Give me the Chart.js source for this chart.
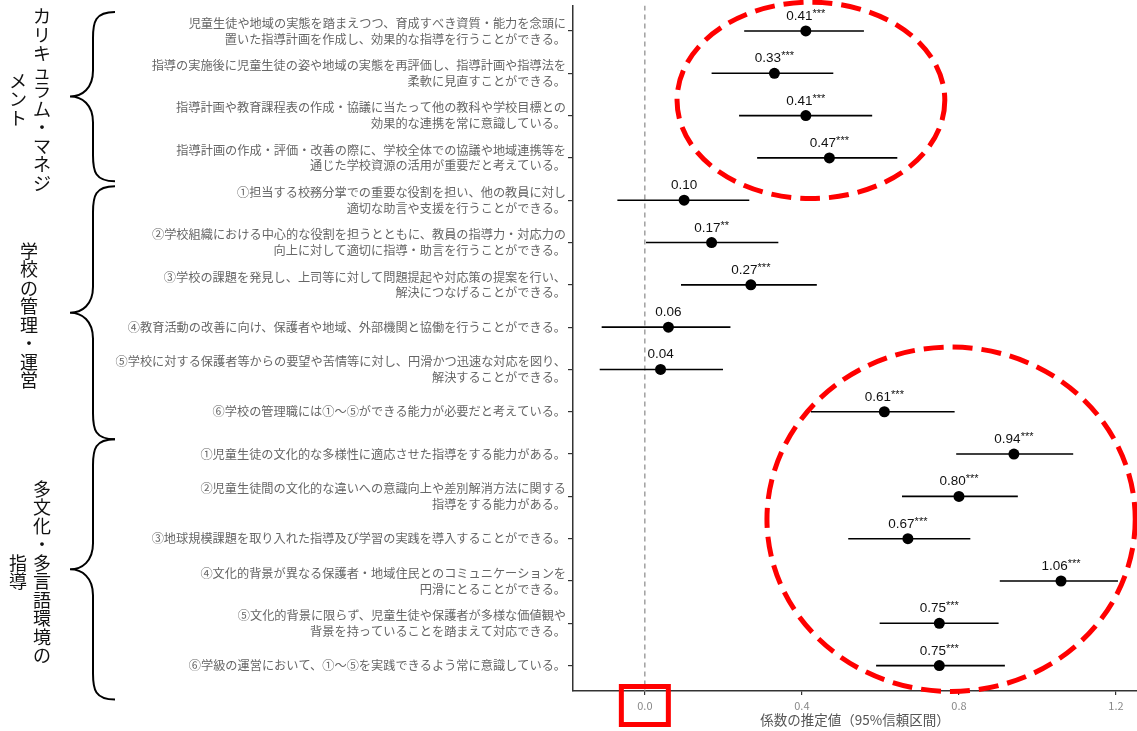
<!DOCTYPE html>
<html lang="ja">
<head>
<meta charset="utf-8">
<script src="https://cdn.jsdelivr.net/npm/chart.js@4.4.1/dist/chart.umd.min.js"></script>
<style>
    html, body { margin: 0; padding: 0; background: #fff; overflow: hidden; }
    canvas { display: block; }
</style>
</head>
<body>
<canvas id="forestPlot" width="1137" height="731"></canvas>
<script>
// Item labels (top to bottom)
const rowLabels = [
    ['児童生徒や地域の実態を踏まえつつ、育成すべき資質・能力を念頭に', '置いた指導計画を作成し、効果的な指導を行うことができる。'],
    ['指導の実施後に児童生徒の姿や地域の実態を再評価し、指導計画や指導法を', '柔軟に見直すことができる。'],
    ['指導計画や教育課程表の作成・協議に当たって他の教科や学校目標との', '効果的な連携を常に意識している。'],
    ['指導計画の作成・評価・改善の際に、学校全体での協議や地域連携等を', '通じた学校資源の活用が重要だと考えている。'],
    ['①担当する校務分掌での重要な役割を担い、他の教員に対し', '適切な助言や支援を行うことができる。'],
    ['②学校組織における中心的な役割を担うとともに、教員の指導力・対応力の', '向上に対して適切に指導・助言を行うことができる。'],
    ['③学校の課題を発見し、上司等に対して問題提起や対応策の提案を行い、', '解決につなげることができる。'],
    '④教育活動の改善に向け、保護者や地域、外部機関と協働を行うことができる。',
    ['⑤学校に対する保護者等からの要望や苦情等に対し、円滑かつ迅速な対応を図り、', '解決することができる。'],
    '⑥学校の管理職には①～⑤ができる能力が必要だと考えている。',
    '①児童生徒の文化的な多様性に適応させた指導をする能力がある。',
    ['②児童生徒間の文化的な違いへの意識向上や差別解消方法に関する', '指導をする能力がある。'],
    '③地球規模課題を取り入れた指導及び学習の実践を導入することができる。',
    ['④文化的背景が異なる保護者・地域住民とのコミュニケーションを', '円滑にとることができる。'],
    ['⑤文化的背景に限らず、児童生徒や保護者が多様な価値観や', '背景を持っていることを踏まえて対応できる。'],
    '⑥学級の運営において、①～⑤を実践できるよう常に意識している。'
];

// Coefficient estimates and 95% CI
const estimates = [0.41, 0.33, 0.41, 0.47, 0.10, 0.17, 0.27, 0.06, 0.04, 0.61, 0.94, 0.80, 0.67, 1.06, 0.75, 0.75];
const ciLow = [0.253, 0.170, 0.240, 0.286, -0.070, 0.003, 0.092, -0.110, -0.115, 0.423, 0.793, 0.655, 0.518, 0.904, 0.598, 0.589];
const ciHigh = [0.558, 0.480, 0.579, 0.643, 0.266, 0.340, 0.438, 0.218, 0.199, 0.789, 1.091, 0.950, 0.829, 1.205, 0.901, 0.917];
const stars = ['***', '***', '***', '***', '', '**', '***', '', '', '***', '***', '***', '***', '***', '***', '***'];

// x-axis ticks
const xTicks = [0, 0.4, 0.8, 1.2];

// Group titles (vertical text) and the rows they cover
const groupTitles = [['カリキュラム・マネジ', 'メント'], ['学校の管理・運営'], ['多文化・多言語環境の', '指導']];
const groupRows = [[1, 4], [5, 10], [11, 16]];

const jpFont = '"Noto Sans CJK JP", "Noto Sans", sans-serif';
const numFont = '"Liberation Sans", Arial, sans-serif';

// Brace extents in row units (a bit beyond the group rows)
const braceSpans = [[0.55, 4.55], [4.67, 10.65], [10.65, 16.8]];

// Red highlight ellipses in data units (x value, row)
const highlights = [
    { cx: 0.423, cy: 2.64, rx: 0.341, ry: 2.32 },
    { cx: 0.780, cy: 12.54, rx: 0.469, ry: 4.07 }
];

// Whisker segments, separated by null points
const whiskerData = [];
estimates.forEach((v, i) => {
    whiskerData.push({ x: ciLow[i], y: i + 1 });
    whiskerData.push({ x: ciHigh[i], y: i + 1 });
    whiskerData.push({ x: null, y: null });
});

function drawVertical(ctx, text, cx, cy, step) {
    const chars = Array.from(text);
    const y0 = cy - (chars.length * step) / 2 + step / 2;
    chars.forEach((c, k) => ctx.fillText(c, cx, y0 + k * step));
}

function drawBrace(ctx, xEnd, xMid, xTip, y0, y1) {
    const ym = (y0 + y1) / 2;
    const r = 26;
    ctx.beginPath();
    ctx.moveTo(xEnd, y0);
    ctx.bezierCurveTo(xMid + 2, y0, xMid, y0 + 10, xMid, y0 + r);
    ctx.lineTo(xMid, ym - r);
    ctx.bezierCurveTo(xMid, ym - 8, xTip + 12, ym, xTip, ym);
    ctx.bezierCurveTo(xTip + 12, ym, xMid, ym + 8, xMid, ym + r);
    ctx.lineTo(xMid, y1 - r);
    ctx.bezierCurveTo(xMid, y1 - 10, xMid + 2, y1, xEnd, y1);
    ctx.stroke();
}

const forestDecor = {
    id: 'forestDecor',
    afterDatasetsDraw(chart) {
        const { ctx, scales: { x, y } } = chart;
        ctx.save();
        ctx.fillStyle = '#111';
        ctx.textAlign = 'left';
        ctx.textBaseline = 'alphabetic';
        estimates.forEach((v, i) => {
            const px = x.getPixelForValue(v);
            const py = y.getPixelForValue(i + 1) - 11;
            const txt = v.toFixed(2);
            ctx.font = '13.5px ' + numFont;
            const w1 = ctx.measureText(txt).width;
            ctx.font = '11px ' + numFont;
            const w2 = stars[i] ? ctx.measureText(stars[i]).width : 0;
            const start = px - (w1 + w2) / 2;
            ctx.font = '13.5px ' + numFont;
            ctx.fillText(txt, start, py);
            if (stars[i]) {
                ctx.font = '11px ' + numFont;
                ctx.fillText(stars[i], start + w1, py - 3);
            }
        });
        ctx.restore();
    },
    afterDraw(chart) {
        const { ctx, chartArea, scales: { x, y } } = chart;
        ctx.save();

        // Red dashed ellipses
        ctx.strokeStyle = '#ff0000';
        ctx.lineWidth = 5;
        ctx.setLineDash([20, 9]);
        highlights.forEach(e => {
            const cx = x.getPixelForValue(e.cx);
            const cy = y.getPixelForValue(e.cy);
            const rx = Math.abs(x.getPixelForValue(e.cx + e.rx) - cx);
            const ry = Math.abs(y.getPixelForValue(e.cy + e.ry) - cy);
            ctx.beginPath();
            ctx.ellipse(cx, cy, rx, ry, 0, 0, Math.PI * 2);
            ctx.stroke();
        });

        // Red box around the 0.0 tick
        ctx.setLineDash([]);
        const zx = x.getPixelForValue(0);
        ctx.strokeRect(zx - 23.5, chartArea.bottom - 4.5, 47, 38);

        // Braces
        ctx.strokeStyle = '#000';
        ctx.lineWidth = 2;
        braceSpans.forEach(s => {
            drawBrace(ctx, 115, 93, 70, y.getPixelForValue(s[0]), y.getPixelForValue(s[1]));
        });

        // Group titles, vertical
        ctx.fillStyle = '#111';
        ctx.font = '18px ' + jpFont;
        ctx.textAlign = 'center';
        ctx.textBaseline = 'middle';
        groupTitles.forEach((cols, g) => {
            const s = braceSpans[g];
            const cy = y.getPixelForValue((s[0] + s[1]) / 2) + 3;
            const colX = cols.length === 1 ? [29] : [42, 18];
            cols.forEach((t, k) => drawVertical(ctx, t, colX[k], cy, 18.5));
        });
        ctx.restore();
    }
};

const ctx = document.getElementById('forestPlot');
new Chart(ctx, {
    type: 'scatter',
    data: {
        datasets: [
            {
                // zero reference line
                data: [{ x: 0, y: 0.4 }, { x: 0, y: 16.6 }],
                showLine: true,
                borderColor: '#888',
                borderWidth: 1.2,
                borderDash: [5, 4],
                pointRadius: 0,
                order: 3
            },
            {
                data: whiskerData,
                showLine: true,
                spanGaps: false,
                borderColor: '#000',
                borderWidth: 1.6,
                pointRadius: 0,
                order: 2
            },
            {
                data: estimates.map((v, i) => ({ x: v, y: i + 1 })),
                backgroundColor: '#000',
                borderWidth: 0,
                pointRadius: 5.5,
                order: 1
            }
        ]
    },
    options: {
        responsive: false,
        animation: false,
        layout: { autoPadding: false, padding: { top: 5.6, left: 0, right: 0, bottom: 0 } },
        plugins: {
            legend: { display: false },
            tooltip: { enabled: false }
        },
        scales: {
            x: {
                type: 'linear',
                min: -0.183,
                max: 1.2535,
                afterBuildTicks: scale => { scale.ticks = xTicks.map(v => ({ value: v })); },
                afterFit: scale => { scale.height = 40; scale.paddingLeft = 0; scale.paddingRight = 0; },
                grid: { drawOnChartArea: false, drawTicks: true, tickLength: 4, color: '#333', lineWidth: 1.2 },
                border: { display: true, color: '#333', width: 1.5 },
                ticks: {
                    padding: 4,
                    color: '#888',
                    font: { family: jpFont, size: 11 },
                    callback: v => v.toFixed(1)
                },
                title: {
                    display: true,
                    text: '係数の推定値（95%信頼区間）',
                    color: '#555',
                    font: { family: jpFont, size: 13.5 },
                    padding: { top: 0, bottom: 3 }
                }
            },
            y: {
                type: 'linear',
                reverse: true,
                min: 0.4,
                max: 16.6,
                afterBuildTicks: scale => { scale.ticks = rowLabels.map((_, i) => ({ value: i + 1 })); },
                afterFit: scale => { scale.width = 573; scale.paddingTop = 0; scale.paddingBottom = 0; },
                grid: { drawOnChartArea: false, drawTicks: true, tickLength: 5, color: '#333', lineWidth: 1.2 },
                border: { display: true, color: '#333', width: 1.5 },
                ticks: {
                    autoSkip: false,
                    padding: 2,
                    color: '#666',
                    font: { family: jpFont, size: 12.2, lineHeight: 1.3 },
                    callback: v => rowLabels[Math.round(v) - 1]
                }
            }
        }
    },
    plugins: [forestDecor]
});
</script>
</body>
</html>
